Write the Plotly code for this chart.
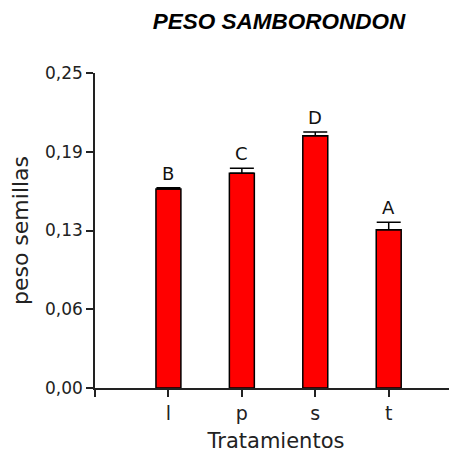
import plotly.graph_objects as go

# Tratamientos y peso medio de semillas
tratamientos = ["l", "p", "s", "t"]
peso = [0.158, 0.1705, 0.2002, 0.1255]
error = [0.001, 0.004, 0.003, 0.006]
letras = ["B", "C", "D", "A"]

y_ticks = [0, 0.0625, 0.125, 0.1875, 0.25]
y_labels = ["0,00", "0,06", "0,13", "0,19", "0,25"]

pos = list(range(len(tratamientos)))
font = "DejaVu Sans, Verdana, sans-serif"

fig = go.Figure()
fig.add_trace(go.Bar(
    x=pos, y=peso, width=0.34,
    marker=dict(color="#ff0000", line=dict(color="black", width=1.5)),
    error_y=dict(type="data", array=error, arrayminus=[0] * len(error),
                 symmetric=False, color="black", thickness=1.5, width=12),
))

for xi, yi, ei, txt in zip(pos, peso, error, letras):
    fig.add_annotation(x=xi, y=yi + ei, text=txt, showarrow=False,
                       yanchor="bottom", yshift=2,
                       font=dict(family=font, size=18, color="#111111"))

# the page body has an 8px margin, so the figure is drawn 8px smaller
fig.update_layout(
    width=449, height=448,
    margin=dict(l=87, r=0, t=65, b=68),
    plot_bgcolor="white", paper_bgcolor="white",
    showlegend=False,
    font=dict(family=font, size=17, color="#222222"),
    title=dict(text="<b><i>PESO SAMBORONDON</i></b>", xref="paper", x=0.508,
               xanchor="center", y=0.971, yanchor="middle",
               font=dict(family="Liberation Sans, Arial, sans-serif", size=22.5, color="black")),
)
fig.update_xaxes(
    range=[-1, 3.93], tickvals=[-1] + pos, ticktext=[""] + tratamientos,
    tickfont=dict(size=19),
    showline=True, linecolor="#222222", linewidth=1.5,
    ticks="outside", ticklen=7, tickwidth=1.5, tickcolor="#222222",
    showgrid=False, zeroline=False,
    title=dict(text="Tratamientos", font=dict(size=21), standoff=11),
)
fig.update_yaxes(
    range=[0, 0.25], tickvals=y_ticks, ticktext=y_labels,
    showline=True, linecolor="#222222", linewidth=1.5,
    ticks="outside", ticklen=7, tickwidth=1.5, tickcolor="#222222",
    showgrid=False, zeroline=False,
    title=dict(text="peso semillas", font=dict(size=22), standoff=17),
)

fig.write_html("out.html")
